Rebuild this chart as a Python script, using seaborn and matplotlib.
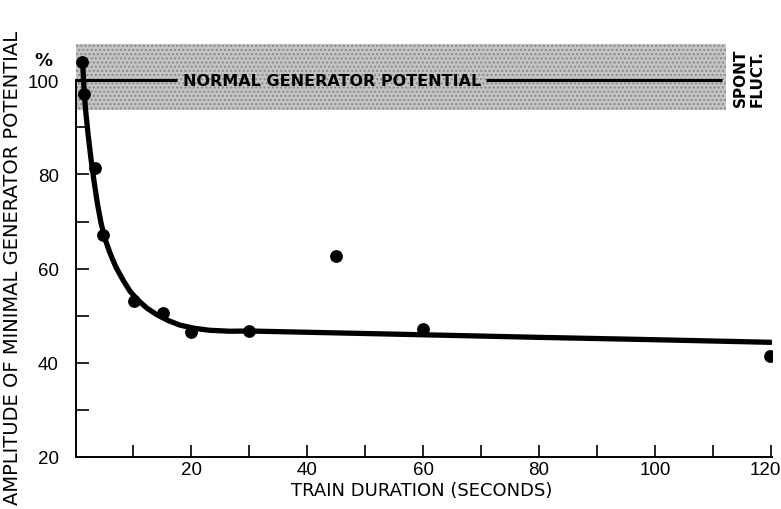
import matplotlib
matplotlib.use('Agg')
import matplotlib.pyplot as plt
import matplotlib.transforms as mtransforms
import seaborn as sns
import pandas as pd

# measured points (train duration in s, amplitude in %)
point_x = [1.2, 1.5, 3.3, 4.8, 10.1, 15.1, 20.0, 30.0, 44.9, 59.9, 119.9]
point_y = [103.9, 97.1, 81.4, 67.1, 53.2, 50.6, 46.6, 46.8, 62.7, 47.2, 41.4]

# smooth fitted curve
curve_x = [1.24, 1.38, 1.72, 2.16, 2.67, 3.19, 3.79, 4.40, 5.09, 5.95, 6.98,
           8.19, 9.40, 10.78, 12.33, 14.05, 15.95, 18.02, 20.60, 23.19, 26.64,
           30, 45, 60, 80, 100, 120]
curve_y = [103.9, 100.0, 93.9, 88.6, 83.3, 78.6, 73.7, 69.7, 66.3, 63.3, 60.3,
           57.6, 55.2, 53.3, 51.6, 50.2, 49.0, 48.0, 47.3, 46.9, 46.7,
           46.75, 46.35, 45.95, 45.4, 44.9, 44.35]

x_ticks = [20, 40, 60, 80, 100, 120]
x_minor = [10, 30, 50, 70, 90, 110]
y_ticks = [20, 40, 60, 80, 100]
y_minor = [30, 50, 70, 90]

normal_level = 100
fluct_band = (93.7, 107.7)
band_end = 112.3

points = pd.DataFrame({'duration': point_x, 'amplitude': point_y})
curve = pd.DataFrame({'duration': curve_x, 'amplitude': curve_y})

sns.set_style('ticks')
plt.rcParams['font.family'] = ['DejaVu Sans']
plt.rcParams['text.color'] = 'black'

fig = plt.figure(figsize=(7.81, 5.10), dpi=100)
ax = fig.add_axes([0.0967, 0.102, 0.8918, 0.8098])

# spontaneous fluctuation band
ax.fill_between([0, band_end], fluct_band[0], fluct_band[1], color='#c4c4c4',
                edgecolor='#8a8a8a', hatch='....', linewidth=0, zorder=0)

# normal generator potential line, broken by the label
ax.hlines(normal_level, 0, 17.5, color='black', lw=2.2, zorder=2)
ax.hlines(normal_level, 70.9, 111.5, color='black', lw=2.2, zorder=2)
ax.text(44.2, normal_level, 'NORMAL GENERATOR POTENTIAL', ha='center', va='center',
        fontsize=11.5, fontweight='bold', zorder=3)
ax.text(116.2, 100.7, 'SPONT\nFLUCT.', rotation=90, ha='center', va='center',
        multialignment='left', fontsize=11, fontweight='bold', linespacing=1.1)

sns.lineplot(data=curve, x='duration', y='amplitude', ax=ax, color='black',
             lw=3.8, sort=False, zorder=4)
sns.scatterplot(data=points, x='duration', y='amplitude', ax=ax, color='black',
                s=85, edgecolor='black', linewidth=0, zorder=5)

ax.set_xlim(0, 120.2)
ax.set_ylim(20, 107.7)
ax.spines['top'].set_visible(False)
ax.spines['right'].set_visible(False)
ax.spines['left'].set_bounds(20, 100)
ax.spines['left'].set_linewidth(1.4)
ax.spines['bottom'].set_linewidth(1.4)
ax.spines['left'].set_color('black')
ax.spines['bottom'].set_color('black')

ax.set_xticks(x_ticks)
ax.set_xticks(x_minor, minor=True)
ax.set_yticks(y_ticks)
ax.set_yticks(y_minor, minor=True)
ax.set_xticklabels([str(v) for v in x_ticks], family='Liberation Sans')
ax.set_yticklabels([str(v) for v in y_ticks], family='Liberation Sans')
ax.tick_params(axis='both', which='both', direction='in', length=9, width=1.2,
               colors='black', labelsize=13.5)
ax.tick_params(axis='x', which='major', pad=3)
ax.tick_params(axis='y', which='major', pad=12)

# last x label sits at the right edge, nudge it left a little
last = ax.get_xticklabels()[-1]
last.set_transform(last.get_transform() +
                   mtransforms.ScaledTranslation(-6 / 100, 0, fig.dpi_scale_trans))

ax.set_xlabel('')
ax.set_ylabel('')
fig.text(0.54, 0.037, 'TRAIN DURATION (SECONDS)', ha='center', va='center',
         fontsize=13)
fig.text(0.016, 0.475, 'AMPLITUDE OF MINIMAL GENERATOR POTENTIAL', rotation=90,
         ha='center', va='center', fontsize=14)
ax.text(-4.0, 104.2, '%', ha='right', va='center', fontsize=13, fontweight='bold')

fig.savefig('out.png', dpi=100)
